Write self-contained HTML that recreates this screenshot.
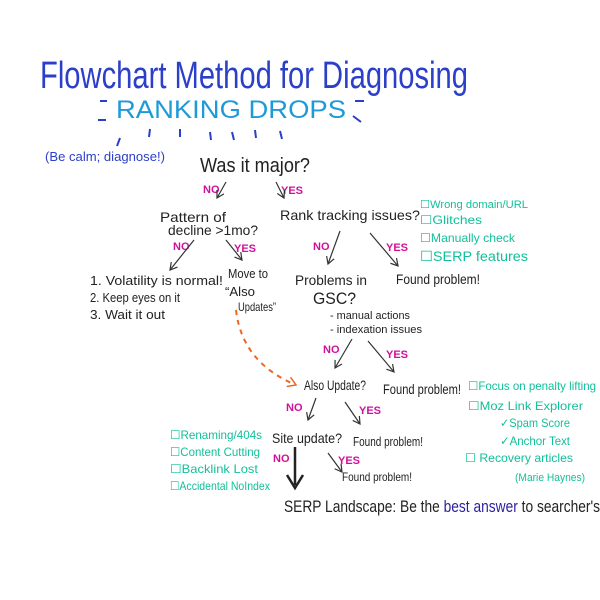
<!DOCTYPE html>
<html><head><meta charset="utf-8"><style>
html,body{margin:0;padding:0;background:#fff;width:600px;height:600px;overflow:hidden}
svg text{font-family:"Liberation Sans",sans-serif}
</style></head><body>
<svg width="600" height="600" viewBox="0 0 600 600" xmlns="http://www.w3.org/2000/svg">
<defs>
<marker id="ah" markerWidth="10" markerHeight="10" refX="8" refY="5" orient="auto" markerUnits="userSpaceOnUse"><path d="M1,1 L8,5 L1,9" fill="none" stroke="#333" stroke-width="1.2"/></marker>
<marker id="ao" markerWidth="12" markerHeight="12" refX="9" refY="6" orient="auto" markerUnits="userSpaceOnUse"><path d="M1,1 L9,6 L1,11" fill="none" stroke="#ee6622" stroke-width="1.5"/></marker>
</defs>
<!-- title -->
<text x="40" y="88" font-size="38" fill="#2b3fc8" textLength="428" lengthAdjust="spacingAndGlyphs">Flowchart Method for Diagnosing</text>
<text x="116" y="118" font-size="25" fill="#1e9ad8" textLength="230" lengthAdjust="spacingAndGlyphs">RANKING DROPS</text>
<g stroke="#2b3fc8" stroke-width="2" fill="none">
<path d="M100,101 h7 M98,120 h8 M355,101 h9 M353,116 l8,6"/>
<path d="M120,138 l-3,8 M150,129 l-1,8 M180,129 l0,8 M210,132 l1,8 M232,132 l2,8 M255,130 l1,8 M280,131 l2,8"/>
</g>
<text x="45" y="161" font-size="13" fill="#2b3fc8" textLength="120" lengthAdjust="spacingAndGlyphs">(Be calm; diagnose!)</text>
<!-- main -->
<g fill="#222">
<text x="200" y="172" font-size="20" textLength="110" lengthAdjust="spacingAndGlyphs">Was it major?</text>
<text x="160" y="222" font-size="14" textLength="66" lengthAdjust="spacingAndGlyphs">Pattern of</text>
<text x="168" y="235" font-size="14" textLength="90" lengthAdjust="spacingAndGlyphs">decline &gt;1mo?</text>
<text x="280" y="220" font-size="14" textLength="140" lengthAdjust="spacingAndGlyphs">Rank tracking issues?</text>
<text x="90" y="285" font-size="13" textLength="133" lengthAdjust="spacingAndGlyphs">1. Volatility is normal!</text>
<text x="90" y="302" font-size="13" textLength="90" lengthAdjust="spacingAndGlyphs">2. Keep eyes on it</text>
<text x="90" y="319" font-size="13" textLength="75" lengthAdjust="spacingAndGlyphs">3. Wait it out</text>
<text x="228" y="278" font-size="13" textLength="40" lengthAdjust="spacingAndGlyphs">Move to</text>
<text x="225" y="296" font-size="13" textLength="30" lengthAdjust="spacingAndGlyphs">“Also</text>
<text x="238" y="311" font-size="12" textLength="38" lengthAdjust="spacingAndGlyphs">Updates”</text>
<text x="295" y="285" font-size="14" textLength="72" lengthAdjust="spacingAndGlyphs">Problems in</text>
<text x="313" y="304" font-size="17" textLength="43" lengthAdjust="spacingAndGlyphs">GSC?</text>
<text x="396" y="284" font-size="14" textLength="84" lengthAdjust="spacingAndGlyphs">Found problem!</text>
<text x="330" y="319" font-size="11" textLength="80" lengthAdjust="spacingAndGlyphs">- manual actions</text>
<text x="330" y="333" font-size="11" textLength="92" lengthAdjust="spacingAndGlyphs">- indexation issues</text>
<text x="304" y="390" font-size="14" textLength="62" lengthAdjust="spacingAndGlyphs">Also Update?</text>
<text x="383" y="394" font-size="14" textLength="78" lengthAdjust="spacingAndGlyphs">Found problem!</text>
<text x="272" y="443" font-size="14" textLength="70" lengthAdjust="spacingAndGlyphs">Site update?</text>
<text x="353" y="446" font-size="13" textLength="70" lengthAdjust="spacingAndGlyphs">Found problem!</text>
<text x="342" y="481" font-size="12" textLength="70" lengthAdjust="spacingAndGlyphs">Found problem!</text>
<text x="284" y="512" font-size="17" textLength="316" lengthAdjust="spacingAndGlyphs">SERP Landscape: Be the <tspan fill="#2a1fa0">best answer</tspan> to searcher's</text>
</g>
<!-- pink labels -->
<g fill="#d0109a" font-size="11" font-weight="bold">
<text x="203" y="193">NO</text><text x="281" y="194">YES</text>
<text x="173" y="250">NO</text><text x="234" y="252">YES</text>
<text x="313" y="250">NO</text><text x="386" y="251">YES</text>
<text x="323" y="353">NO</text><text x="386" y="358">YES</text>
<text x="286" y="411">NO</text><text x="359" y="414">YES</text>
<text x="273" y="462">NO</text><text x="338" y="464">YES</text>
</g>
<!-- arrows -->
<g stroke="#333" stroke-width="1.2" fill="none" marker-end="url(#ah)">
<line x1="226" y1="182" x2="217" y2="198"/>
<line x1="276" y1="182" x2="284" y2="198"/>
<line x1="194" y1="240" x2="170" y2="270"/>
<line x1="226" y1="240" x2="242" y2="260"/>
<line x1="340" y1="231" x2="328" y2="264"/>
<line x1="370" y1="233" x2="398" y2="266"/>
<line x1="352" y1="339" x2="335" y2="368"/>
<line x1="368" y1="341" x2="394" y2="372"/>
<line x1="316" y1="398" x2="308" y2="420"/>
<line x1="345" y1="402" x2="360" y2="424"/>
<line x1="328" y1="453" x2="342" y2="472"/>
</g>
<line x1="295" y1="447" x2="295" y2="485" stroke="#222" stroke-width="2.5"/>
<path d="M287,475 L295,488 L303,475" fill="none" stroke="#222" stroke-width="2.5"/>
<path d="M236,310 C240,345 260,370 296,385" fill="none" stroke="#ee6622" stroke-width="2" stroke-dasharray="5,5" marker-end="url(#ao)"/>
<!-- green lists -->
<g fill="#12c09a">
<text x="420" y="208" font-size="11" textLength="108" lengthAdjust="spacingAndGlyphs">☐Wrong domain/URL</text>
<text x="420" y="224" font-size="12" textLength="62" lengthAdjust="spacingAndGlyphs">☐Glitches</text>
<text x="420" y="242" font-size="12" textLength="95" lengthAdjust="spacingAndGlyphs">☐Manually check</text>
<text x="420" y="261" font-size="14" textLength="108" lengthAdjust="spacingAndGlyphs">☐SERP features</text>
<text x="468" y="390" font-size="12" textLength="128" lengthAdjust="spacingAndGlyphs">☐Focus on penalty lifting</text>
<text x="468" y="410" font-size="12" textLength="115" lengthAdjust="spacingAndGlyphs">☐Moz Link Explorer</text>
<text x="500" y="427" font-size="12" textLength="70" lengthAdjust="spacingAndGlyphs">✓Spam Score</text>
<text x="500" y="445" font-size="12" textLength="70" lengthAdjust="spacingAndGlyphs">✓Anchor Text</text>
<text x="465" y="462" font-size="12" textLength="108" lengthAdjust="spacingAndGlyphs">☐ Recovery articles</text>
<text x="515" y="481" font-size="11" textLength="70" lengthAdjust="spacingAndGlyphs">(Marie Haynes)</text>
<text x="170" y="439" font-size="12" textLength="92" lengthAdjust="spacingAndGlyphs">☐Renaming/404s</text>
<text x="170" y="456" font-size="12" textLength="90" lengthAdjust="spacingAndGlyphs">☐Content Cutting</text>
<text x="170" y="473" font-size="12" textLength="88" lengthAdjust="spacingAndGlyphs">☐Backlink Lost</text>
<text x="170" y="490" font-size="12" textLength="100" lengthAdjust="spacingAndGlyphs">☐Accidental NoIndex</text>
</g>
</svg>
</body></html>
